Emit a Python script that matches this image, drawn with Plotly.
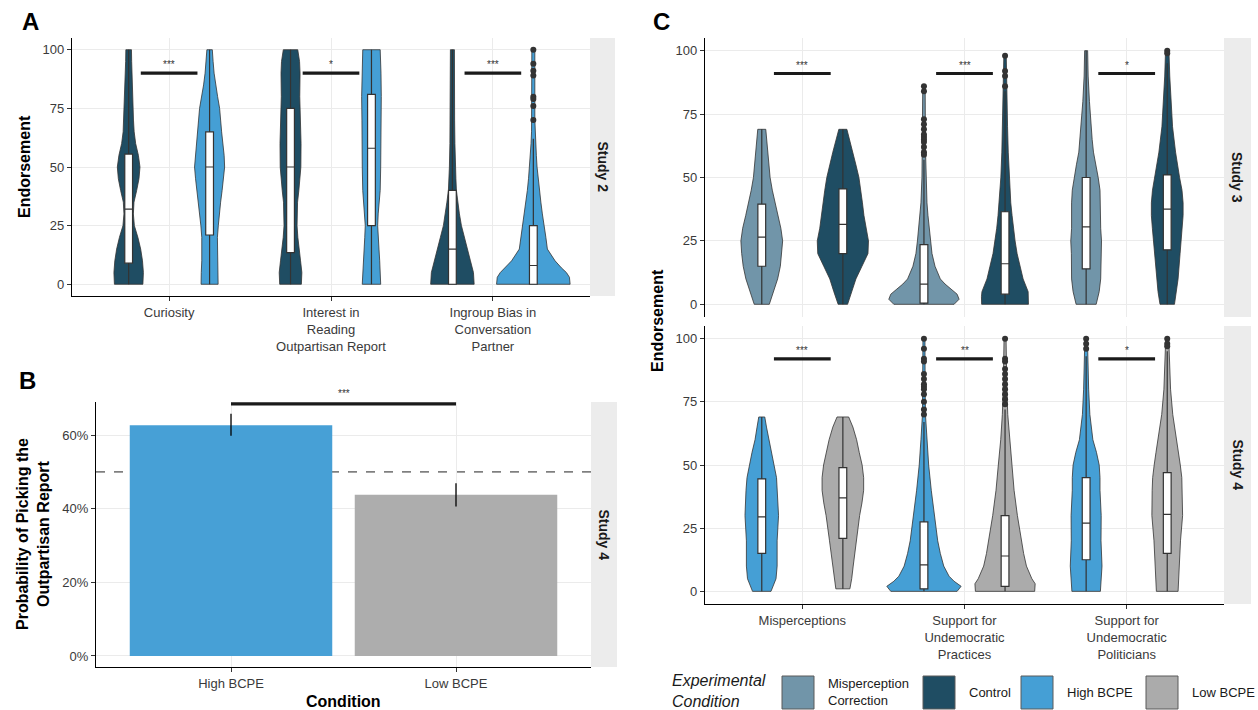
import plotly.graph_objects as go

# ======================= DATA =======================
CATS_A = ["Curiosity", "Interest in<br>Reading<br>Outpartisan Report",
          "Ingroup Bias in<br>Conversation<br>Partner"]
CATS_C = ["Misperceptions", "Support for<br>Undemocratic<br>Practices",
          "Support for<br>Undemocratic<br>Politicians"]
CATS_B = ["High BCPE", "Low BCPE"]

COLORS = {"Misperception Correction": "#7195a9", "Control": "#1f4d63",
          "High BCPE": "#459fd5", "Low BCPE": "#ababab"}

# --- violin density profiles (value levels, relative half-width) ---
# Panel A, Study 2
A_CUR_CTRL_Y = [0, 5, 10, 15, 20, 25, 30, 35, 40, 45, 50, 55, 60, 65, 70, 75, 80, 85, 90, 95, 100]
A_CUR_CTRL_D = [14.2, 14.7, 13.8, 12, 9.2, 5.7, 4.7, 5.3, 8, 10.3, 11.3, 9.7, 7, 5.5, 4.8, 4.3, 4, 3.7, 3.3, 3, 2.8]
A_CUR_HIGH_Y = [0, 5, 10, 15, 20, 25, 30, 35, 40, 45, 50, 55, 60, 65, 70, 75, 80, 85, 90, 95, 100]
A_CUR_HIGH_D = [8.5, 8.3, 7.8, 7.5, 7.8, 8.7, 9.5, 11, 12.5, 14, 15, 14.5, 13, 12, 11, 10, 8, 6, 4.5, 3.5, 2.7]
A_INT_CTRL_Y = [0, 5, 10, 15, 20, 25, 30, 35, 40, 45, 50, 60, 70, 80, 90, 95, 100]
A_INT_CTRL_D = [10.8, 11.3, 10, 8.3, 7.3, 6.5, 6.5, 7, 8.3, 9.5, 10.3, 10.5, 10, 9.2, 9.5, 9, 7.2]
A_INT_HIGH_Y = [0, 5, 10, 15, 20, 25, 30, 35, 40, 50, 60, 70, 80, 90, 100]
A_INT_HIGH_D = [9.2, 9, 8.2, 7.5, 6.7, 6.2, 6.7, 7.7, 8.7, 9.2, 9.5, 9.5, 9.8, 9.5, 8.7]
A_ING_CTRL_Y = [0, 5, 10, 15, 20, 25, 30, 35, 40, 45, 50, 60, 70, 80, 90, 100]
A_ING_CTRL_D = [21.7, 21, 18, 15, 12, 9, 7, 5.5, 4, 3.5, 3, 2.5, 2.2, 2, 2, 2]
A_ING_HIGH_Y = [0, 3, 5, 7, 10, 15, 20, 25, 30, 35, 40, 45, 50, 55, 60, 65, 70, 80, 90, 100]
A_ING_HIGH_D = [36.7, 36, 33, 28, 21.7, 14, 12.5, 10.5, 9, 7.5, 6, 4.8, 3.7, 3, 2.3, 1.8, 1.5, 1.5, 1.5, 1.5]

# Panel C, Study 3
C3_MIS_MC_Y = [0, 5, 10, 15, 20, 25, 30, 35, 40, 45, 50, 55, 60, 65, 69]
C3_MIS_MC_D = [7.5, 12, 15.8, 18.5, 20, 20.8, 19, 16, 13, 10.5, 8.3, 7, 5.8, 4.8, 4]
C3_MIS_CT_Y = [0, 5, 10, 15, 20, 25, 30, 35, 40, 45, 50, 55, 60, 65, 69]
C3_MIS_CT_D = [4.7, 9, 13, 19, 25, 25.5, 23, 21, 19.5, 18, 16, 13, 10, 7, 4]
C3_PRA_MC_Y = [0, 2, 4, 6, 8, 10, 15, 20, 25, 30, 35, 40, 50, 60, 70, 86]
C3_PRA_MC_D = [30, 35, 33, 27, 21, 16.3, 11, 8, 6.5, 5.3, 4, 3, 2, 1.6, 1.4, 1.2]
C3_PRA_CT_Y = [0, 3, 5, 10, 15, 20, 25, 30, 35, 40, 50, 60, 70, 80, 90, 98]
C3_PRA_CT_D = [23.3, 23.5, 23, 18, 15, 12, 10, 8.3, 7, 5.7, 4.2, 3.2, 2.5, 2, 1.5, 1.2]
C3_POL_MC_Y = [0, 5, 10, 20, 25, 30, 40, 45, 50, 55, 60, 65, 70, 80, 90, 100]
C3_POL_MC_D = [10, 13, 14.5, 14.7, 15.3, 14.5, 14.5, 13.8, 12, 9.7, 7.3, 6, 5, 3.3, 2, 1.5]
C3_POL_CT_Y = [0, 5, 10, 20, 30, 35, 40, 45, 50, 55, 60, 70, 80, 90, 100]
C3_POL_CT_D = [7.2, 9.2, 10.8, 12.8, 14.8, 15.8, 15.8, 14.7, 12.3, 10.3, 8.3, 5.3, 3.7, 2.5, 1.7]

# Panel C, Study 4
C4_MIS_HI_Y = [0, 5, 10, 20, 30, 40, 45, 50, 55, 60, 65, 69]
C4_MIS_HI_D = [9.2, 14.2, 15.3, 15.3, 16.7, 15.7, 14.7, 12.2, 9.7, 6.7, 4.7, 3]
C4_MIS_LO_Y = [1, 5, 10, 20, 30, 35, 40, 45, 50, 55, 60, 65, 69]
C4_MIS_LO_D = [7, 8.8, 10.3, 13.3, 16.7, 19, 20.7, 20.7, 19.2, 16.3, 13.7, 10, 5.8]
C4_PRA_HI_Y = [0, 2, 4, 6, 10, 15, 20, 25, 30, 40, 50, 60, 70, 80, 90, 100]
C4_PRA_HI_D = [33, 37, 30, 25, 19.7, 16.3, 13.7, 12, 10.3, 7.3, 4.7, 3, 1.5, 1.2, 1, 1]
C4_PRA_LO_Y = [0, 3, 5, 10, 15, 20, 30, 40, 50, 60, 70, 80, 90, 100]
C4_PRA_LO_D = [29.5, 30, 26.7, 21.3, 18.5, 16.2, 12.3, 9, 6.7, 4.3, 2.7, 1.8, 1.3, 1]
C4_POL_HI_Y = [0, 10, 20, 30, 40, 45, 50, 55, 60, 65, 70, 80, 90, 100]
C4_POL_HI_D = [14.2, 15.8, 14.8, 15, 13.8, 13.8, 13, 10.3, 6.7, 5, 3.7, 2.5, 1.7, 1.3]
C4_POL_LO_Y = [0, 10, 20, 30, 40, 45, 50, 55, 60, 70, 80, 90, 100]
C4_POL_LO_D = [10.8, 11.7, 13.2, 15.3, 15, 14.5, 13, 11.2, 8.8, 5.5, 3.3, 2.2, 1.5]

# --- box statistics: q1, median, q3, lower whisker, upper whisker ---
A_BOX = [(9, 32, 55.5, 0, 100), (21, 50, 65, 0, 100),
         (13.5, 50, 75, 0, 100), (25, 58, 81, 0, 100),
         (0, 15, 40, 0, 100), (0, 8, 25, 0, 62)]
C3_BOX = [(15, 26.5, 39.5, 0, 69), (20, 31.5, 45.5, 0, 69),
          (0.5, 8, 23.5, 0, 57), (4, 16, 36.5, 0, 84),
          (14, 30.5, 50, 0, 100), (21.5, 37.5, 51, 0, 95)]
C4_BOX = [(15, 29.5, 44.5, 0, 69), (21, 37, 49, 1, 69),
          (1, 10.5, 27.5, 0, 67), (2, 14, 30, 0, 72),
          (12.5, 27, 45, 0, 93), (15, 30.5, 47, 0, 95)]

# --- outliers ---
A_ING_HIGH_OUT = [100, 94, 91, 89, 80, 79, 76, 70]
C3_PRA_MC_OUT = [86, 84, 73, 71, 69, 67, 66, 65, 64, 62, 60, 59]
C3_PRA_CT_OUT = [98, 92, 90, 86]
C3_POL_CT_OUT = [100, 99]
C4_PRA_HI_OUT = [100, 96, 92, 91, 86, 84, 82, 81, 80, 78, 75, 72, 70]
C4_PRA_LO_OUT = [100, 92, 91, 88, 86, 84, 82, 80, 78, 76, 74]
C4_POL_HI_OUT = [100, 98, 96]
C4_POL_LO_OUT = [100, 98, 97]

# --- significance labels ---
A_STARS = ["***", "*", "***"]
C3_STARS = ["***", "***", "*"]
C4_STARS = ["***", "**", "*"]
A_SIG_LEVEL, C3_SIG_LEVEL, C4_SIG_LEVEL = 90, 91, 92

# --- Panel B ---
B_PROB = [0.627, 0.438]
B_ERR_HI = [0.658, 0.469]
B_ERR_LO = [0.598, 0.406]
B_CHANCE = 0.5
B_SIG_LEVEL = 0.685
B_STARS = "***"

# ======================= LAYOUT HELPERS =======================
W, H = 1258, 710
FONT = "Liberation Sans, Arial, sans-serif"
DENS_SCALE = 161.5  # density units per category width
DODGE = 0.25
BOX_W = 0.048
CAT_RANGE = [-0.6, 2.6]
VAL_RANGE = [-5, 105]


def px(x):
    return x / W


def py(y):
    return 1 - y / H


fig = go.Figure()


def add_violin(xa, ya, center, ys, ds, color):
    right = [center + d / DENS_SCALE for d in ds]
    left = [center - d / DENS_SCALE for d in ds]
    xs = right + left[::-1] + [right[0]]
    yy = ys + ys[::-1] + [ys[0]]
    fig.add_trace(go.Scatter(x=xs, y=yy, mode="lines", fill="toself",
                             fillcolor=color, line=dict(color="#333333", width=0.8),
                             xaxis=xa, yaxis=ya, hoverinfo="skip", showlegend=False))


def add_box(xa, ya, center, stats):
    q1, med, q3, lo, hi = stats
    fig.add_trace(go.Box(x=[center], q1=[q1], median=[med], q3=[q3],
                         lowerfence=[lo], upperfence=[hi], width=BOX_W, orientation="v",
                         fillcolor="white", line=dict(color="#333333", width=1.2),
                         whiskerwidth=0, boxpoints=False, xaxis=xa, yaxis=ya,
                         showlegend=False, hoverinfo="skip"))


def add_outliers(xa, ya, center, vals):
    fig.add_trace(go.Scatter(x=[center] * len(vals), y=vals, mode="markers",
                             marker=dict(color="#333333", size=6),
                             xaxis=xa, yaxis=ya, showlegend=False, hoverinfo="skip"))


def add_sig(xa, ya, centers, level, stars):
    for c, s in zip(centers, stars):
        fig.add_trace(go.Scatter(x=[c - 0.175, c + 0.175], y=[level, level], mode="lines",
                                 line=dict(color="#1a1a1a", width=3.2), cliponaxis=False,
                                 xaxis=xa, yaxis=ya, showlegend=False, hoverinfo="skip"))
        fig.add_annotation(x=c, y=level, xref=xa, yref=ya, text=s, showarrow=False,
                           xanchor="center", yanchor="bottom", yshift=1,
                           font=dict(size=10, color="#333333", family=FONT))


ctrl, hi_c, lo_c, mc = COLORS["Control"], COLORS["High BCPE"], COLORS["Low BCPE"], COLORS["Misperception Correction"]


def draw_panel(xa, ya, xo, yo, violins, boxes):
    # violins on the base axes, boxes on an overlaid pair of axes so they sit on top
    for i, (ys, ds, col) in enumerate(violins):
        c = i // 2 + (-DODGE if i % 2 == 0 else DODGE)
        add_violin(xa, ya, c, ys, ds, col)
        add_box(xo, yo, c, boxes[i])


# ======================= PANEL A =======================
A_VIOLINS = [(A_CUR_CTRL_Y, A_CUR_CTRL_D, ctrl), (A_CUR_HIGH_Y, A_CUR_HIGH_D, hi_c),
             (A_INT_CTRL_Y, A_INT_CTRL_D, ctrl), (A_INT_HIGH_Y, A_INT_HIGH_D, hi_c),
             (A_ING_CTRL_Y, A_ING_CTRL_D, ctrl), (A_ING_HIGH_Y, A_ING_HIGH_D, hi_c)]
draw_panel("x", "y", "x5", "y5", A_VIOLINS, A_BOX)
add_outliers("x", "y", 2 + DODGE, A_ING_HIGH_OUT)
add_sig("x", "y", [0, 1, 2], A_SIG_LEVEL, A_STARS)

# ======================= PANEL C =======================
C3_VIOLINS = [(C3_MIS_MC_Y, C3_MIS_MC_D, mc), (C3_MIS_CT_Y, C3_MIS_CT_D, ctrl),
              (C3_PRA_MC_Y, C3_PRA_MC_D, mc), (C3_PRA_CT_Y, C3_PRA_CT_D, ctrl),
              (C3_POL_MC_Y, C3_POL_MC_D, mc), (C3_POL_CT_Y, C3_POL_CT_D, ctrl)]
draw_panel("x3", "y3", "x6", "y6", C3_VIOLINS, C3_BOX)
add_outliers("x3", "y3", 1 - DODGE, C3_PRA_MC_OUT)
add_outliers("x3", "y3", 1 + DODGE, C3_PRA_CT_OUT)
add_outliers("x3", "y3", 2 + DODGE, C3_POL_CT_OUT)
add_sig("x3", "y3", [0, 1, 2], C3_SIG_LEVEL, C3_STARS)

C4_VIOLINS = [(C4_MIS_HI_Y, C4_MIS_HI_D, hi_c), (C4_MIS_LO_Y, C4_MIS_LO_D, lo_c),
              (C4_PRA_HI_Y, C4_PRA_HI_D, hi_c), (C4_PRA_LO_Y, C4_PRA_LO_D, lo_c),
              (C4_POL_HI_Y, C4_POL_HI_D, hi_c), (C4_POL_LO_Y, C4_POL_LO_D, lo_c)]
draw_panel("x4", "y4", "x7", "y7", C4_VIOLINS, C4_BOX)
add_outliers("x4", "y4", 1 - DODGE, C4_PRA_HI_OUT)
add_outliers("x4", "y4", 1 + DODGE, C4_PRA_LO_OUT)
add_outliers("x4", "y4", 2 - DODGE, C4_POL_HI_OUT)
add_outliers("x4", "y4", 2 + DODGE, C4_POL_LO_OUT)
add_sig("x4", "y4", [0, 1, 2], C4_SIG_LEVEL, C4_STARS)

# ======================= PANEL B =======================
fig.add_trace(go.Bar(x=[0, 1], y=B_PROB, width=0.9,
                     marker=dict(color=["#47a0d6", "#adadad"], line=dict(width=0)),
                     error_y=dict(type="data", symmetric=False,
                                  array=[h - p for h, p in zip(B_ERR_HI, B_PROB)],
                                  arrayminus=[p - l for l, p in zip(B_ERR_LO, B_PROB)],
                                  width=0, thickness=1.3, color="black"),
                     xaxis="x2", yaxis="y2", showlegend=False, hoverinfo="skip"))
fig.add_trace(go.Scatter(x=[0, 1], y=[B_SIG_LEVEL, B_SIG_LEVEL], mode="lines",
                         line=dict(color="#1a1a1a", width=3.2), cliponaxis=False,
                         xaxis="x2", yaxis="y2", showlegend=False, hoverinfo="skip"))
fig.add_annotation(x=0.5, y=B_SIG_LEVEL, xref="x2", yref="y2", text=B_STARS, showarrow=False,
                   xanchor="center", yanchor="bottom", yshift=3,
                   font=dict(size=10, color="#333333", family=FONT))
fig.add_shape(type="line", xref="x2 domain", yref="y2", x0=0, x1=1, y0=B_CHANCE, y1=B_CHANCE,
              line=dict(color="#222", width=1, dash="dash"), layer="below")

# ======================= AXES =======================
GRID = "#ebebeb"
TICKFONT = dict(family=FONT, size=13, color="#3a3a3a")


def xax(domain, anchor, tickvals, ticktext, rng, show_line=True, show_labels=True):
    return dict(domain=domain, anchor=anchor, range=rng, tickvals=tickvals, ticktext=ticktext,
                showgrid=True, gridcolor=GRID, gridwidth=1, zeroline=False,
                showline=show_line, linecolor="black", linewidth=1.3,
                ticks="outside" if show_line else "", ticklen=4, tickcolor="#333",
                showticklabels=show_labels, tickfont=TICKFONT, fixedrange=True)


def yax(domain, anchor, tickvals, ticktext, rng):
    d = dict(domain=domain, anchor=anchor, range=rng, tickvals=tickvals,
             showgrid=True, gridcolor=GRID, gridwidth=1, zeroline=False,
             showline=True, linecolor="black", linewidth=1.3,
             ticks="outside", ticklen=4, tickcolor="#333", tickfont=TICKFONT, fixedrange=True)
    if ticktext is not None:
        d["ticktext"] = ticktext
    return d


def over(base, anchor, rng):
    return dict(overlaying=base, anchor=anchor, range=rng, visible=False, fixedrange=True)


Y_TICKS = [0, 25, 50, 75, 100]
fig.update_layout(
    xaxis=xax([px(72), px(590)], "y", [0, 1, 2], CATS_A, CAT_RANGE),
    yaxis=yax([py(296), py(38)], "x", Y_TICKS, None, VAL_RANGE),
    xaxis2=xax([px(96), px(591)], "y2", [0, 1], CATS_B, [-0.6, 1.6]),
    yaxis2=yax([py(667), py(402)], "x2", [0, 0.2, 0.4, 0.6], ["0%", "20%", "40%", "60%"], [-0.03, 0.69]),
    xaxis3=xax([px(705), px(1224)], "y3", [0, 1, 2], CATS_C, CAT_RANGE, show_line=False, show_labels=False),
    yaxis3=yax([py(317), py(38)], "x3", Y_TICKS, None, VAL_RANGE),
    xaxis4=xax([px(705), px(1224)], "y4", [0, 1, 2], CATS_C, CAT_RANGE),
    yaxis4=yax([py(604), py(326)], "x4", Y_TICKS, None, VAL_RANGE),
    xaxis5=over("x", "y5", CAT_RANGE), yaxis5=over("y", "x5", VAL_RANGE),
    xaxis6=over("x3", "y6", CAT_RANGE), yaxis6=over("y3", "x6", VAL_RANGE),
    xaxis7=over("x4", "y7", CAT_RANGE), yaxis7=over("y4", "x7", VAL_RANGE),
)

# ======================= STRIPS / LABELS =======================
STRIP = "#ececec"
strips = [((590, 615), (38, 296), "Study 2"), ((591, 617), (402, 667), "Study 4"),
          ((1224, 1251), (38, 317), "Study 3"), ((1224, 1251), (326, 604), "Study 4")]
for (x0, x1), (y0, y1), txt in strips:
    fig.add_shape(type="rect", xref="paper", yref="paper", x0=px(x0), x1=px(x1),
                  y0=py(y1), y1=py(y0), fillcolor=STRIP, line=dict(width=0), layer="below")
    fig.add_annotation(xref="paper", yref="paper", x=px((x0 + x1) / 2), y=py((y0 + y1) / 2),
                       xanchor="center", yanchor="middle",
                       text="<b>%s</b>" % txt, textangle=90, showarrow=False,
                       font=dict(family=FONT, size=14, color="#1a1a1a"))

for txt, x, y in [("A", 30, 22), ("B", 28, 381), ("C", 661, 22)]:
    fig.add_annotation(xref="paper", yref="paper", x=px(x), y=py(y), text="<b>%s</b>" % txt,
                       xanchor="center", yanchor="middle",
                       showarrow=False, font=dict(family=FONT, size=24, color="black"))

TITLEFONT = dict(family=FONT, size=16, color="black")
for txt, x, y in [("<b>Endorsement</b>", 24, 167), ("<b>Endorsement</b>", 657, 321),
                  ("<b>Probability of Picking the<br>Outpartisan Report</b>", 33, 534)]:
    fig.add_annotation(xref="paper", yref="paper", x=px(x), y=py(y), text=txt,
                       xanchor="center", yanchor="middle",
                       textangle=-90, showarrow=False, font=TITLEFONT)
fig.add_annotation(xref="paper", yref="paper", x=px(343), y=py(691), xanchor="center", yanchor="top",
                   text="<b>Condition</b>", showarrow=False, font=TITLEFONT)

# ======================= LEGEND (manual) =======================
fig.add_annotation(xref="paper", yref="paper", x=px(670), y=py(691), xanchor="left", yanchor="middle",
                   text="<i>Experimental</i><br><i>Condition</i>", showarrow=False, align="left",
                   font=dict(family=FONT, size=16, color="#1a1a1a"))
LEG_LABELS = ["Misperception<br>Correction", "Control", "High BCPE", "Low BCPE"]
LEG_KEYS = ["Misperception Correction", "Control", "High BCPE", "Low BCPE"]
for kx, key, lab in zip([782, 923, 1021, 1146], LEG_KEYS, LEG_LABELS):
    fig.add_shape(type="rect", xref="paper", yref="paper", x0=px(kx), x1=px(kx + 32),
                  y0=py(709), y1=py(676), fillcolor=COLORS[key],
                  line=dict(color="#5a5a5a", width=1))
    fig.add_annotation(xref="paper", yref="paper", x=px(kx + 44), y=py(692),
                       xanchor="left", yanchor="middle",
                       text=lab, showarrow=False, align="left",
                       font=dict(family=FONT, size=13, color="#1a1a1a"))

fig.update_layout(width=W, height=H, margin=dict(l=0, r=0, t=0, b=0),
                  plot_bgcolor="white", paper_bgcolor="white", showlegend=False,
                  font=dict(family=FONT), boxmode="overlay")

fig.write_html("out.html", config={"displayModeBar": False},
               post_script="document.body.style.margin='0';document.body.style.overflow='hidden';")
